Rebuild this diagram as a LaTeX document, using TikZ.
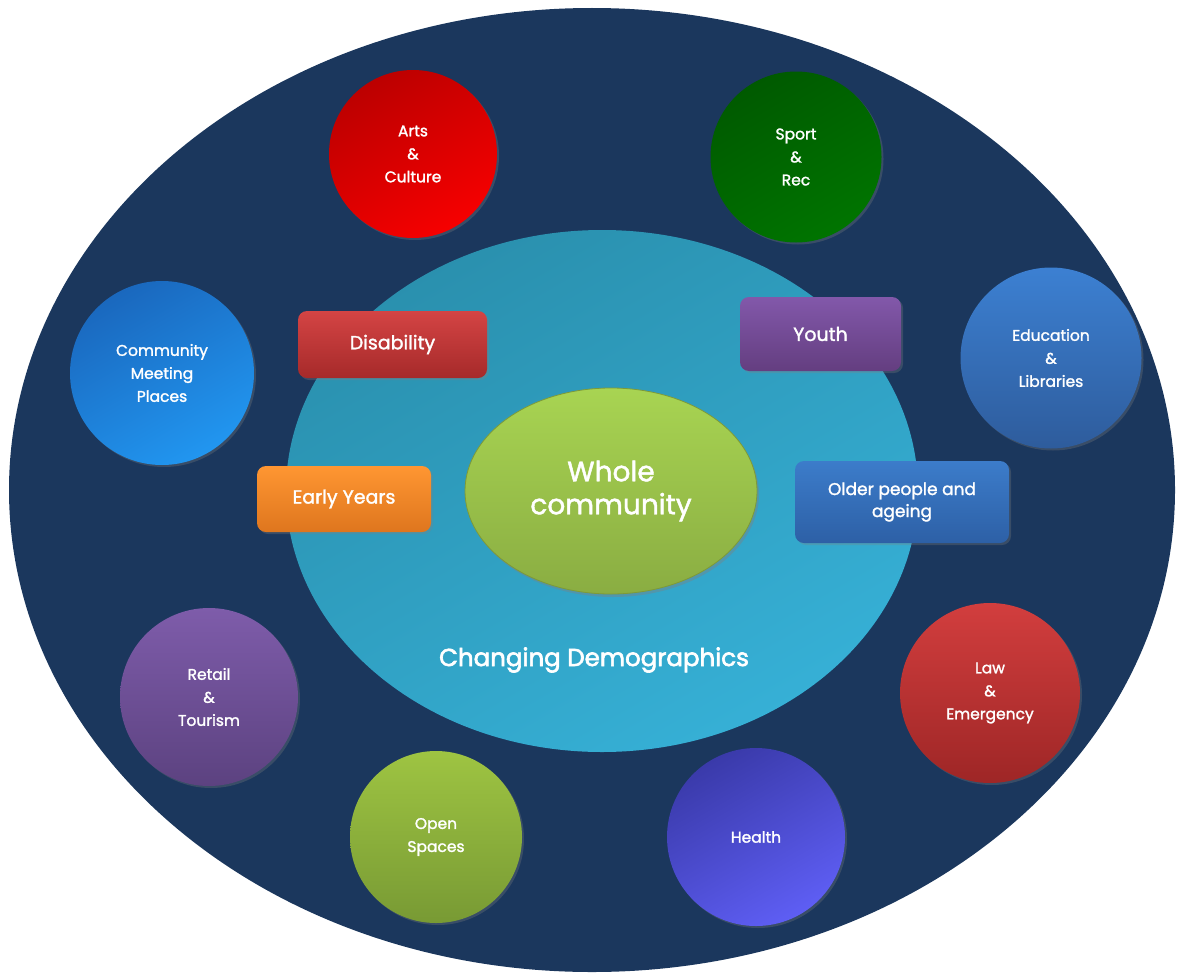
\documentclass[tikz,border=0pt]{standalone}
\usepackage{fontspec}
\setmainfont{Poppins}[FakeBold=1.6]
\newfontfamily\demofont{Poppins}[FakeBold=2.6]
\usetikzlibrary{shapes.geometric,shadows}
\definecolor{navy}{HTML}{1B375D}
\definecolor{tealA}{HTML}{2A90AE}\definecolor{tealB}{HTML}{36B0D6}
\definecolor{greenA}{HTML}{A8D452}\definecolor{greenB}{HTML}{8AAD42}\definecolor{greenD}{HTML}{7E9A38}
\definecolor{artsA}{HTML}{BC0000}\definecolor{artsB}{HTML}{F60000}
\definecolor{sportA}{HTML}{005A00}\definecolor{sportB}{HTML}{007400}
\definecolor{commA}{HTML}{1A68BE}\definecolor{commB}{HTML}{2196F0}
\definecolor{eduA}{HTML}{3C80D2}\definecolor{eduB}{HTML}{2E5C9C}
\definecolor{retA}{HTML}{7E5CAA}\definecolor{retB}{HTML}{5C4280}
\definecolor{lawA}{HTML}{D23E3E}\definecolor{lawB}{HTML}{9E2626}
\definecolor{openA}{HTML}{9EC442}\definecolor{openB}{HTML}{789A34}
\definecolor{healA}{HTML}{3A3AAA}\definecolor{healB}{HTML}{5E5EF4}
\definecolor{disA}{HTML}{D44444}\definecolor{disB}{HTML}{A62A2A}
\definecolor{youA}{HTML}{8258AA}\definecolor{youB}{HTML}{643E80}
\definecolor{earA}{HTML}{FF9632}\definecolor{earB}{HTML}{DE761E}
\definecolor{oldA}{HTML}{3C7CCA}\definecolor{oldB}{HTML}{2D60A6}
\tikzset{
  circ/.style={circle, inner sep=0pt, minimum size=#1, text=white, align=center,
    font=\fontsize{15.5}{23}\selectfont, drop shadow={opacity=0.3, shadow xshift=2pt, shadow yshift=-2pt}},
  box/.style={rounded corners=9pt, inner sep=0pt, text=white, align=center,
    font=\fontsize{19}{24}\selectfont, drop shadow={opacity=0.3, shadow xshift=2pt, shadow yshift=-2pt}},
  diag/.style 2 args={shading=axis, top color=#1, bottom color=#2, shading angle=30},
  vert/.style 2 args={shading=axis, top color=#1, bottom color=#2},
}
\begin{document}
\begin{tikzpicture}[x=1pt,y=-1pt]
\useasboundingbox (0,0) rectangle (1177,974);
% outer and inner fields
\fill[navy] (592,490) ellipse [x radius=583, y radius=482];
\shade[diag={tealA}{tealB}] (602,491) ellipse [x radius=316, y radius=261];
% centre
\node[ellipse, minimum width=292pt, minimum height=206pt, inner sep=0pt,
  vert={greenA}{greenB}, draw=greenD, line width=0.8pt, text=white, align=center,
  font=\fontsize{28}{33}\selectfont,
  drop shadow={opacity=0.4, shadow xshift=2pt, shadow yshift=-3pt}] (whole) at (611,491) {Whole\\community};
\node[text=white, font=\fontsize{24.5}{28}\demofont] (demo) at (594,660) {Changing Demographics};
% circles
\node[circ=168pt, diag={artsA}{artsB}] (arts) at (413,154) {Arts\\\&\\Culture};
\node[circ=171pt, diag={sportA}{sportB}] (sport) at (796,157) {Sport\\\&\\Rec};
\node[circ=184pt, diag={commA}{commB}] (comm) at (162,373) {Community\\Meeting\\Places};
\node[circ=181pt, vert={eduA}{eduB}] (edu) at (1051,358) {Education\\\&\\Libraries};
\node[circ=178pt, vert={retA}{retB}] (retail) at (209,697) {Retail\\\&\\Tourism};
\node[circ=180pt, vert={lawA}{lawB}] (law) at (990,693) {Law\\\&\\Emergency};
\node[circ=172pt, vert={openA}{openB}] (open) at (436,837) {Open\\Spaces};
\node[circ=178pt, diag={healA}{healB}] (health) at (756,837) {Health};
% boxes
\node[box, minimum width=189pt, minimum height=67pt, vert={disA}{disB}] (dis) at (392.5,344.5) {Disability};
\node[box, minimum width=161pt, minimum height=74pt, vert={youA}{youB}] (youth) at (820.5,334) {Youth};
\node[box, minimum width=174pt, minimum height=66pt, vert={earA}{earB}] (early) at (344,499) {Early Years};
\node[box, minimum width=214pt, minimum height=82pt, vert={oldA}{oldB},
  font=\fontsize{17}{22}\selectfont] (older) at (902,502) {Older people and\\ageing};
\end{tikzpicture}
\end{document}
